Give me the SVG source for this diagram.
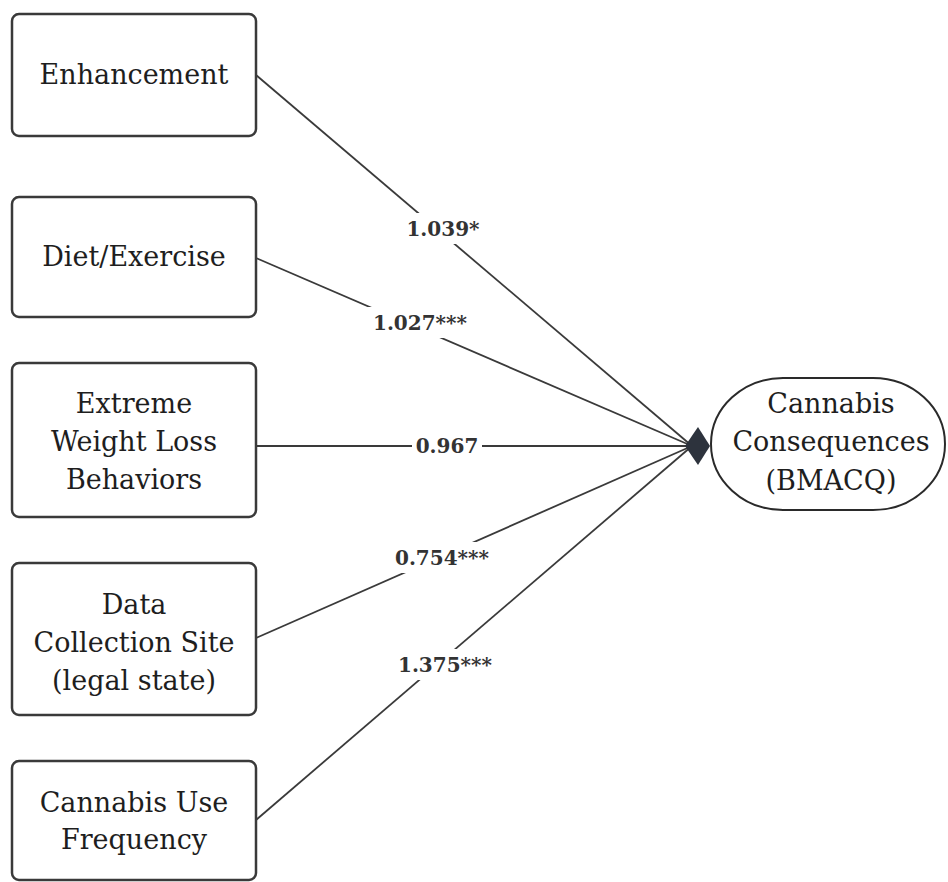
<svg xmlns="http://www.w3.org/2000/svg" width="948" height="882" viewBox="0 0 948 882">
<style>
.box{fill:#fff;stroke:#3a3a3a;stroke-width:2.5}
.t{font-family:"DejaVu Serif","Liberation Serif",serif;font-size:27px;fill:#1e1e1e;text-anchor:middle}
.edge{stroke:#3a3a3a;stroke-width:1.8;fill:none}
.lbl{font-family:"DejaVu Serif","Liberation Serif",serif;font-size:20px;font-weight:bold;fill:#333;text-anchor:middle}
.bg{fill:#fff}
</style>
<rect width="948" height="882" fill="#fff"/>
<g id="connectors">
<line class="edge" x1="256" y1="75" x2="692" y2="446"/>
<line class="edge" x1="256" y1="258" x2="692" y2="446"/>
<line class="edge" x1="256" y1="446" x2="692" y2="446"/>
<line class="edge" x1="256" y1="638" x2="692" y2="446"/>
<line class="edge" x1="256" y1="820" x2="692" y2="446"/>
<polygon points="685,446 698,427 710,446 698,465" fill="#2d333d"/>
<rect class="bg" x="402" y="213" width="82" height="31"/>
<text class="lbl" x="443" y="236">1.039*</text>
<rect class="bg" x="365" y="307" width="110" height="31"/>
<text class="lbl" x="420" y="330">1.027***</text>
<rect class="bg" x="412" y="430" width="70" height="31"/>
<text class="lbl" x="447" y="453">0.967</text>
<rect class="bg" x="387" y="542" width="110" height="31"/>
<text class="lbl" x="442" y="565">0.754***</text>
<rect class="bg" x="390" y="649" width="110" height="31"/>
<text class="lbl" x="445" y="672">1.375***</text>
</g>
<g id="enhancement">
<rect class="box" x="12" y="14" width="244" height="122" rx="7"/>
<text class="t" x="134" y="84">Enhancement</text>
</g>
<g id="diet-exercise">
<rect class="box" x="12" y="197" width="244" height="120" rx="7"/>
<text class="t" x="134" y="266">Diet/Exercise</text>
</g>
<g id="extreme-weight-loss">
<rect class="box" x="12" y="363" width="244" height="154" rx="7"/>
<text class="t" x="134" y="413">Extreme</text>
<text class="t" x="134" y="451">Weight Loss</text>
<text class="t" x="134" y="489">Behaviors</text>
</g>
<g id="data-collection-site">
<rect class="box" x="12" y="563" width="244" height="152" rx="7"/>
<text class="t" x="134" y="614">Data</text>
<text class="t" x="134" y="652">Collection Site</text>
<text class="t" x="134" y="690">(legal state)</text>
</g>
<g id="cannabis-use-frequency">
<rect class="box" x="12" y="761" width="244" height="119" rx="7"/>
<text class="t" x="134" y="812">Cannabis Use</text>
<text class="t" x="134" y="849">Frequency</text>
</g>
<g id="cannabis-consequences">
<rect x="711" y="378" width="234" height="132" rx="72" ry="66" fill="#fff" stroke="#2a2a2a" stroke-width="2"/>
<text class="t" x="831" y="413">Cannabis</text>
<text class="t" x="831" y="451">Consequences</text>
<text class="t" x="831" y="490">(BMACQ)</text>
</g>
</svg>
